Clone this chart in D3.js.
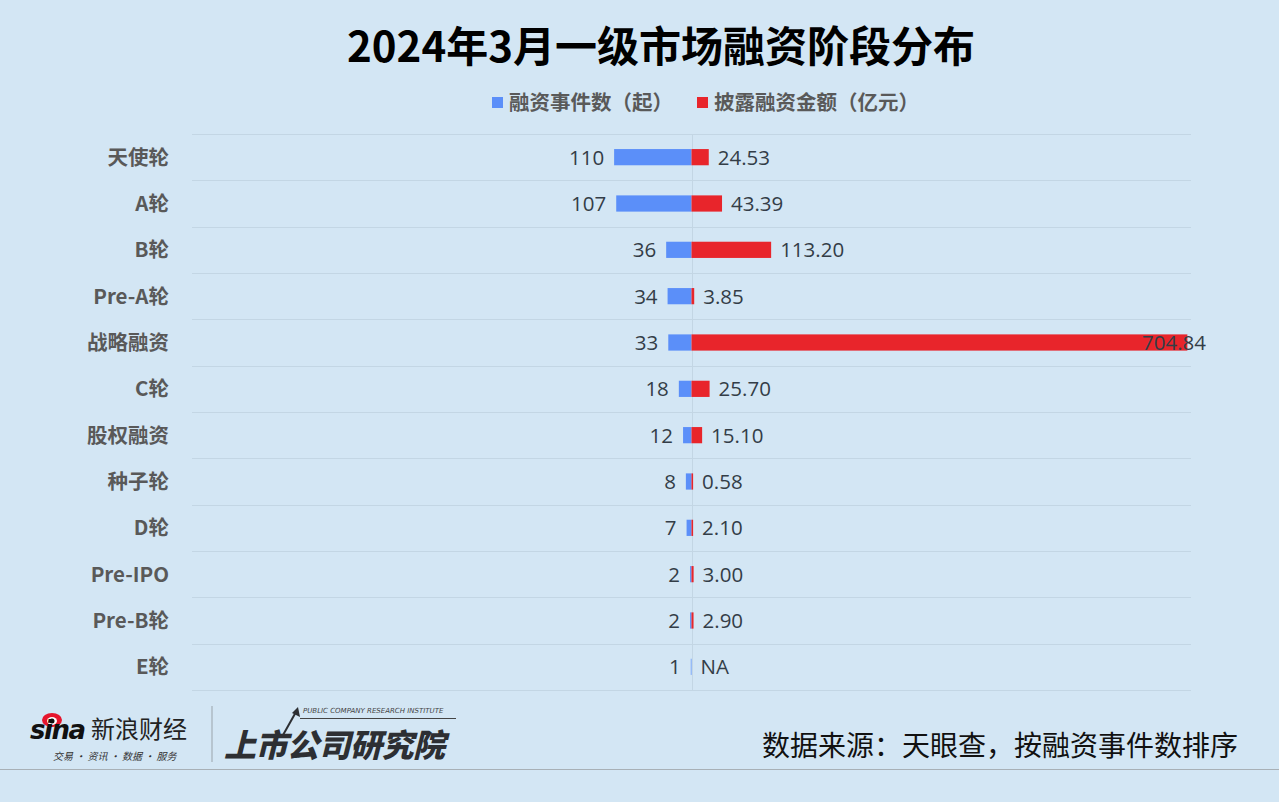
<!DOCTYPE html>
<html><head><meta charset="utf-8">
<script src="https://cdn.jsdelivr.net/npm/d3@7/dist/d3.min.js"></script>
<style>
html,body{margin:0;padding:0;background:#d3e6f4;}
svg{display:block;}
</style></head>
<body>
<svg id="c" width="1279" height="802"></svg>
<script>
const categories = ["天使轮","A轮","B轮","Pre-A轮","战略融资","C轮","股权融资","种子轮","D轮","Pre-IPO","Pre-B轮","E轮"];
const eventCounts = [110,107,36,34,33,18,12,8,7,2,2,1];
const amounts = [24.53,43.39,113.20,3.85,704.84,25.70,15.10,0.58,2.10,3.00,2.90,null];
const seriesNames = ["融资事件数（起）","披露融资金额（亿元）"];
const title = "2024年3月一级市场融资阶段分布";
const source = "数据来源：天眼查，按融资事件数排序";

const W=1279,H=802;
const svg=d3.select("#c");
const FONT="'Noto Sans CJK SC','Noto Sans',sans-serif";
const NUMFONT="'Open Sans','Noto Sans',sans-serif";
const BLUE="#5b8ff9", RED="#e8252b";

svg.append("rect").attr("width",W).attr("height",H).attr("fill","#d3e6f4");

const x=d3.scaleLinear().domain([-710,710]).range([192,1191]);
const y=d3.scaleBand().domain(categories).range([134,690]).paddingInner(0.65).paddingOuter(0.325);
const step=y.step();
const minW=1.6;

// title
svg.append("text").attr("x",661).attr("y",62).attr("text-anchor","middle")
  .attr("font-family",FONT).attr("font-weight",700).attr("font-size",42).attr("fill","#000")
  .text(title);

// legend
const lg=svg.append("g").attr("font-family",FONT).attr("font-weight",700).attr("font-size",20.5).attr("fill","#595959");
[[492,BLUE,seriesNames[0]],[697,RED,seriesNames[1]]].forEach(([lx,c,t])=>{
  lg.append("rect").attr("x",lx).attr("y",97).attr("width",11).attr("height",11).attr("fill",c);
  lg.append("text").attr("x",lx+17).attr("y",110).text(t);
});

// grid lines
const gl=svg.append("g").attr("stroke","#c3d6e4").attr("stroke-width",1);
d3.range(categories.length+1).forEach(i=>{
  const yy=Math.round(134+i*step)+0.5;
  gl.append("line").attr("x1",x.range()[0]).attr("x2",x.range()[1]).attr("y1",yy).attr("y2",yy);
});
gl.append("line").attr("x1",Math.round(x(0))+0.5).attr("x2",Math.round(x(0))+0.5).attr("y1",134).attr("y2",690);

// category labels
svg.append("g").selectAll("text").data(categories).join("text")
  .attr("x",169).attr("y",d=>y(d)+y.bandwidth()/2).attr("dy","0.36em")
  .attr("text-anchor","end").attr("font-family",FONT).attr("font-weight",700)
  .attr("font-size",20.5).attr("fill","#595959").text(d=>d);

// left bars
svg.append("g").selectAll("rect").data(categories).join("rect")
  .attr("x",(d,i)=>x(-eventCounts[i])).attr("y",d=>y(d))
  .attr("width",(d,i)=>x(0)-x(-eventCounts[i])).attr("height",y.bandwidth()).attr("fill",BLUE);

// right bars
svg.append("g").selectAll("rect").data(categories).join("rect")
  .attr("x",x(0)).attr("y",d=>y(d))
  .attr("width",(d,i)=>amounts[i]==null?0:Math.max(minW,x(amounts[i])-x(0))).attr("height",y.bandwidth()).attr("fill",RED);

// left labels
svg.append("g").selectAll("text").data(categories).join("text")
  .attr("x",(d,i)=>x(-eventCounts[i])-10).attr("y",d=>y(d)+y.bandwidth()/2).attr("dy","0.36em")
  .attr("text-anchor","end").attr("font-family",NUMFONT).attr("font-size",20.5).attr("fill","#333d47")
  .text((d,i)=>eventCounts[i]);

// right labels
const rl=svg.append("g");
categories.forEach((d,i)=>{
  const v=amounts[i];
  const t=rl.append("text").attr("y",y(d)+y.bandwidth()/2).attr("dy","0.36em")
    .attr("font-family",NUMFONT).attr("font-size",20.5).attr("fill","#333d47")
    .text(v==null?"NA":v.toFixed(2));
  const px=(v==null?x(0):x(0)+Math.max(minW,x(v)-x(0)))+9;
  const w=t.node().getComputedTextLength();
  if(px+w>1206){ t.attr("x",1206).attr("text-anchor","end"); }
  else t.attr("x",px);
});

// footer
svg.append("text").attr("x",1238).attr("y",756).attr("text-anchor","end")
  .attr("font-family",FONT).attr("font-size",28).attr("fill","#111").text(source);
svg.append("line").attr("x1",0).attr("x2",W).attr("y1",769.5).attr("y2",769.5).attr("stroke","#a8b0b6").attr("stroke-width",1.2);

// sina logo (approximation)
const lgo=svg.append("g");
lgo.append("ellipse").attr("cx",52).attr("cy",720).attr("rx",10).attr("ry",7).attr("fill","#e6162d");
lgo.append("ellipse").attr("cx",52).attr("cy",721).attr("rx",5).attr("ry",4).attr("fill","#fff");
lgo.append("circle").attr("cx",52).attr("cy",721).attr("r",2.5).attr("fill","#111");
lgo.append("text").attr("x",30).attr("y",739).attr("font-family","'DejaVu Sans',sans-serif").attr("font-weight",700)
  .attr("font-style","italic").attr("font-size",26).attr("fill","#111").attr("letter-spacing",-1.5).text("sina");
lgo.append("text").attr("x",91).attr("y",738).attr("font-family",FONT).attr("font-size",24).attr("fill","#222").text("新浪财经");
lgo.append("text").attr("x",53).attr("y",760).attr("font-family",FONT).attr("font-size",10).attr("fill","#333").attr("font-style","italic").text("交易 · 资讯 · 数据 · 服务");
lgo.append("line").attr("x1",212).attr("x2",212).attr("y1",706).attr("y2",762).attr("stroke","#9aa4ab").attr("stroke-width",1);
lgo.append("text").attr("x",224).attr("y",757).attr("font-family",FONT).attr("font-weight",900).attr("font-style","italic")
  .attr("font-size",32).attr("fill","#2d2f33").attr("letter-spacing",-0.5).text("上市公司研究院");
lgo.append("text").attr("x",303).attr("y",713).attr("font-family","'DejaVu Sans',sans-serif").attr("font-size",7)
  .attr("fill","#444").attr("font-style","italic").text("PUBLIC COMPANY RESEARCH INSTITUTE");
lgo.append("line").attr("x1",300).attr("x2",456).attr("y1",718.5).attr("y2",718.5).attr("stroke","#444").attr("stroke-width",1);
lgo.append("line").attr("x1",283).attr("x2",296).attr("y1",735).attr("y2",712).attr("stroke","#2d2f33").attr("stroke-width",2);
lgo.append("path").attr("d","M298,707 L300,717 L292,713 Z").attr("fill","#2d2f33");
</script>
</body></html>
